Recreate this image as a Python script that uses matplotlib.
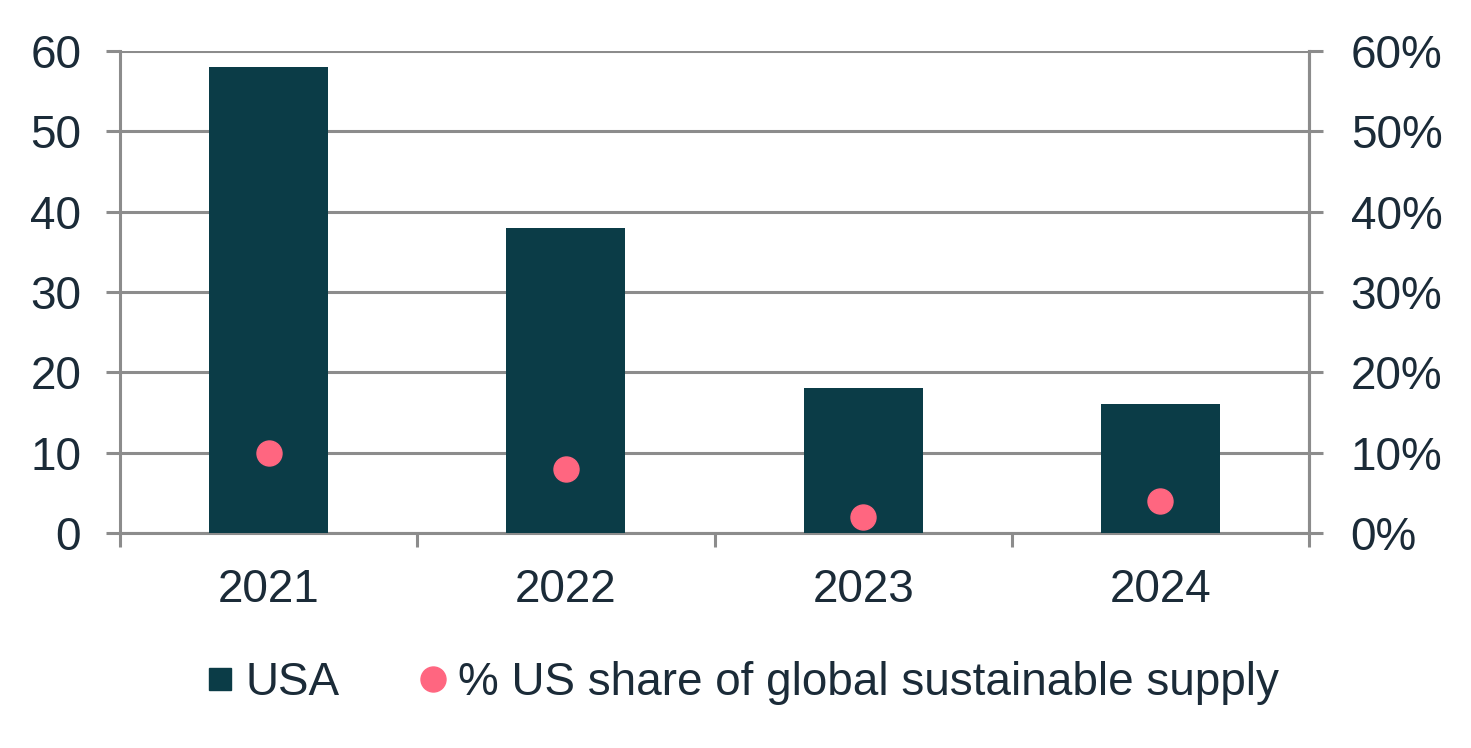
import matplotlib.pyplot as plt
from matplotlib.lines import Line2D
from matplotlib.ticker import PercentFormatter

years = ["2021", "2022", "2023", "2024"]
usa = [58, 38, 18, 16]
share = [10, 8, 2, 4]

bar_col = "#0b3c47"
dot_col = "#ff6680"
txt_col = "#1b2b38"
grid_col = "#8c8c8c"

plt.rcParams["font.family"] = ["Liberation Sans", "DejaVu Sans"]
plt.rcParams["font.size"] = 33

fig = plt.figure(figsize=(14.71, 7.48), dpi=100)
ax = fig.add_axes([0.0816, 0.2874, 0.8083, 0.6444])
x = range(len(years))
ax.bar(x, usa, width=0.4, color=bar_col, zorder=3)
ax.set_ylim(0, 60)
ax.set_xlim(-0.5, 3.5)
ax.set_yticks(range(0, 61, 10))
ax.yaxis.grid(True, color=grid_col, linewidth=2.2, zorder=0)
ax.set_xticks(list(x))
ax.set_xticklabels(years)
ax.set_xticks([-0.5, 0.5, 1.5, 2.5, 3.5], minor=True)
ax.tick_params(axis="x", which="major", length=0, pad=25, colors=txt_col)
ax.tick_params(axis="x", which="minor", length=10, width=2.2, color=grid_col)
ax.tick_params(axis="y", length=10, width=2.2, color=grid_col, labelcolor=txt_col, pad=18)
for s in ["left", "bottom", "right"]:
    ax.spines[s].set_color(grid_col)
    ax.spines[s].set_linewidth(2.2)
ax.spines["top"].set_visible(False)

ax2 = ax.twinx()
ax2.plot(list(x), share, "o", color=dot_col, markersize=18, zorder=4)
ax2.set_ylim(0, 60)
ax2.set_yticks(range(0, 61, 10))
ax2.yaxis.set_major_formatter(PercentFormatter(decimals=0))
ax2.tick_params(axis="y", length=10, width=2.2, color=grid_col, labelcolor=txt_col, pad=20)
for s in ["left", "bottom", "top"]:
    ax2.spines[s].set_visible(False)
ax2.spines["right"].set_color(grid_col)
ax2.spines["right"].set_linewidth(2.2)

handles = [
    Line2D([], [], marker="s", linestyle="", color=bar_col, markersize=16, label="USA"),
    Line2D([], [], marker="o", linestyle="", color=dot_col, markersize=18,
           label="% US share of global sustainable supply"),
]
leg = fig.legend(handles=handles, loc="center", bbox_to_anchor=(0.505, 0.087), ncol=2,
                 frameon=False, handlelength=0.6, handletextpad=0.25,
                 columnspacing=1.75, fontsize=33)
for t in leg.get_texts():
    t.set_color(txt_col)

fig.savefig("out.png", dpi=100)
